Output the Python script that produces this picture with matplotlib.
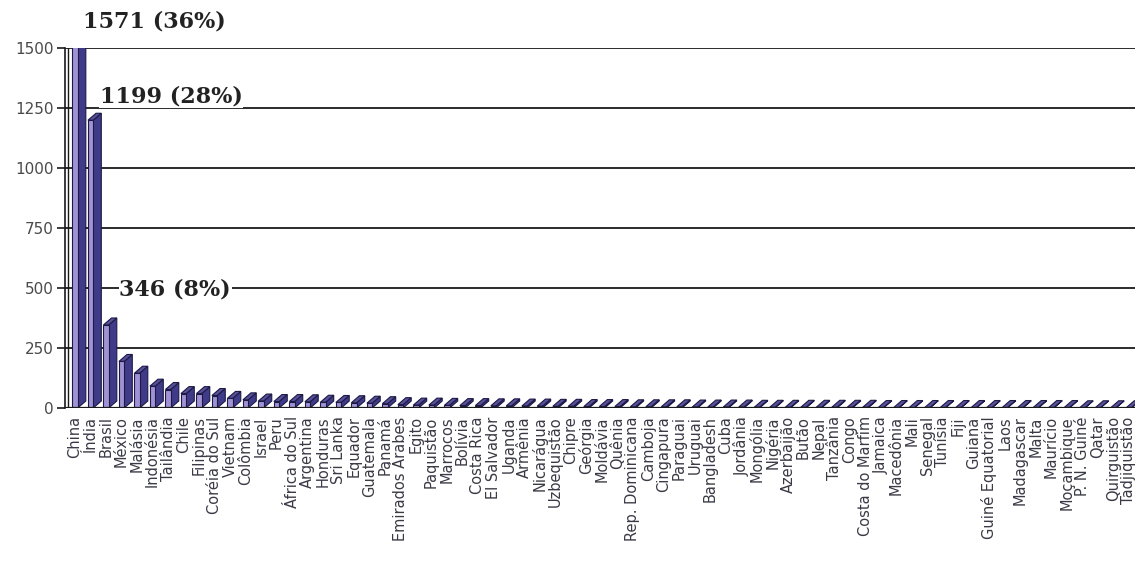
import matplotlib
matplotlib.use("Agg")
import matplotlib.pyplot as plt
from matplotlib.patches import Polygon

paises = ["China", "Índia", "Brasil", "México", "Malásia", "Indonésia", "Tailândia",
          "Chile", "Filipinas", "Coréia do Sul", "Vietnam", "Colômbia", "Israel", "Peru",
          "África do Sul", "Argentina", "Honduras", "Sri Lanka", "Equador", "Guatemala",
          "Panamá", "Emirados Árabes", "Egito", "Paquistão", "Marrocos", "Bolívia",
          "Costa Rica", "El Salvador", "Uganda", "Armênia", "Nicarágua", "Uzbequistão",
          "Chipre", "Geórgia", "Moldávia", "Quênia", "Rep. Dominicana", "Camboja",
          "Cingapura", "Paraguai", "Uruguai", "Bangladesh", "Cuba", "Jordânia", "Mongólia",
          "Nigéria", "Azerbaijão", "Butão", "Nepal", "Tanzânia", "Congo", "Costa do Marfim",
          "Jamaica", "Macedônia", "Mali", "Senegal", "Tunísia", "Fiji", "Guiana",
          "Guiné Equatorial", "Laos", "Madagascar", "Malta", "Maurício", "Moçambique",
          "P. N. Guiné", "Qatar", "Quirguistão", "Tadjiquistão"]

valores = [1571, 1199, 346, 194, 145, 91, 77, 60, 60, 52, 40, 34, 29, 27, 27, 26, 24,
           23, 22, 20, 18, 14, 12, 12, 11, 10, 10, 9, 9, 8, 8, 7, 7, 6, 6, 6, 5, 5, 5,
           5, 4, 4, 4, 4, 3, 3, 3, 3, 3, 3, 3, 3, 2, 2, 2, 2, 2, 2, 2, 2, 2, 2, 2, 2,
           2, 1, 1, 1, 1]

rotulos = {0: "1571 (36%)", 1: "1199 (28%)", 2: "346 (8%)"}

frente = "#a092d4"
lado = "#403b88"
topo = "#585099"
borda = "#1c1a45"

fig = plt.figure(figsize=(11.35, 5.76), dpi=100)
ax = fig.add_axes([0.0573, 0.2917, 0.9427, 0.625])

ymax = 1500
larg = 0.34
dx = 0.52
dy = 29

for y in range(250, 1501, 250):
    ax.axhline(y, color="#1a1a1a", lw=1.3, zorder=1)
ax.axhline(0, color="#1a1a1a", lw=1.6, zorder=5)

x = list(range(len(paises)))
for i, v in enumerate(valores):
    x0 = i - larg / 2
    x1 = i + larg / 2
    # lado e topo do "3D"
    ax.add_patch(Polygon([(x1, 0), (x1 + dx, dy), (x1 + dx, v + dy), (x1, v)],
                         closed=True, fc=lado, ec=borda, lw=0.8, zorder=3))
    ax.add_patch(Polygon([(x0, v), (x0 + dx, v + dy), (x1 + dx, v + dy), (x1, v)],
                         closed=True, fc=topo, ec=borda, lw=0.8, zorder=3))
ax.bar(x, valores, width=larg, color=frente, edgecolor=borda, lw=0.8, zorder=4)

ax.set_xlim(-0.65, 68.4)
ax.set_ylim(0, ymax)
ax.axvline(-0.45, color="#1a1a1a", lw=1.0, zorder=2)

ax.set_yticks(range(0, 1501, 250))
ax.tick_params(axis="y", length=6, width=1.2, pad=2, labelsize=11, labelcolor="#4a4a4a",
               color="#1a1a1a")
ax.set_xticks(x)
ax.set_xticklabels(paises, rotation=90, fontsize=10.5, color="#3a3a46")
ax.tick_params(axis="x", length=0, pad=6)

for s in ["top", "right", "bottom"]:
    ax.spines[s].set_visible(False)
ax.spines["left"].set_linewidth(1.2)
ax.spines["left"].set_color("#1a1a1a")

pos = {0: (0.52, 1610), 1: (1.6, 1297), 2: (2.85, 492)}
for i, txt in rotulos.items():
    px, py = pos[i]
    ax.text(px, py, txt, fontsize=16, fontweight="bold", family="DejaVu Serif",
            color="#222222", va="center", ha="left", zorder=6, clip_on=False,
            bbox=dict(fc="white", ec="none", pad=0.5))

fig.savefig("out.png", dpi=100)
